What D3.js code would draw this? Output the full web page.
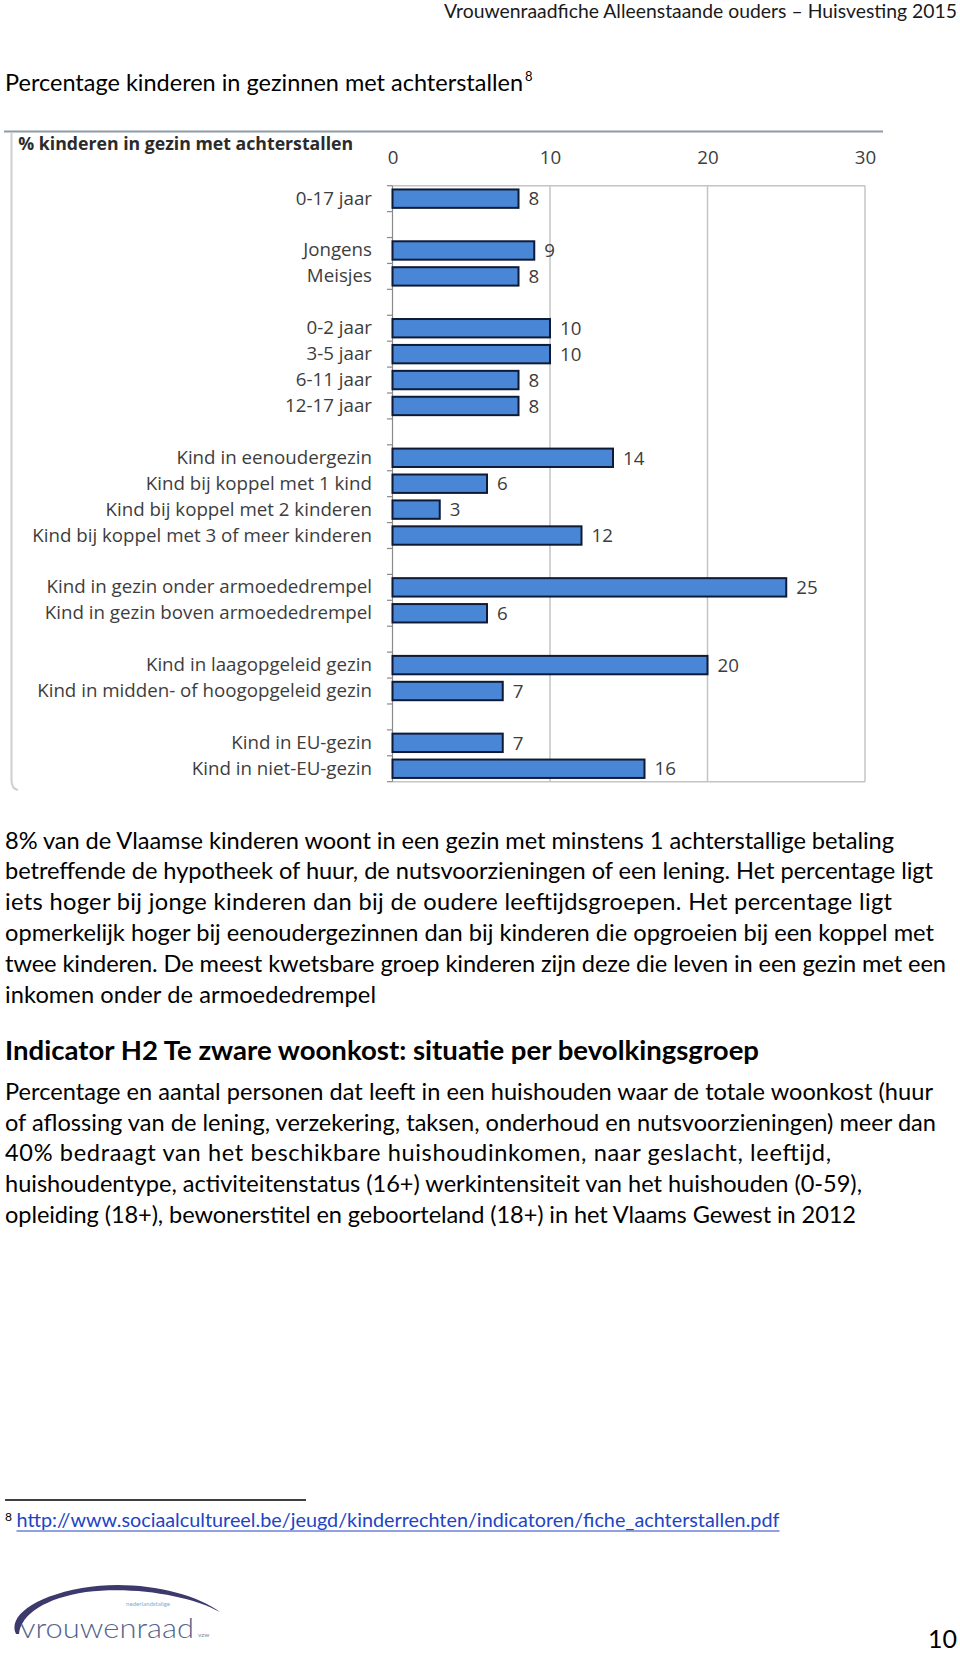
<!DOCTYPE html>
<html><head><meta charset="utf-8">
<script src="https://cdn.jsdelivr.net/npm/d3@7"></script>
<style>html,body{margin:0;padding:0;background:#fff;} svg{display:block}</style>
</head><body>
<svg id="page" width="960" height="1653"></svg>
<script>
// ---------- data ----------
const categories = ["0-17 jaar","","Jongens","Meisjes","","0-2 jaar","3-5 jaar","6-11 jaar","12-17 jaar","",
  "Kind in eenoudergezin","Kind bij koppel met 1 kind","Kind bij koppel met 2 kinderen","Kind bij koppel met 3 of meer kinderen","",
  "Kind in gezin onder armoededrempel","Kind in gezin boven armoededrempel","",
  "Kind in laagopgeleid gezin","Kind in midden- of hoogopgeleid gezin","",
  "Kind in EU-gezin","Kind in niet-EU-gezin"];
const values = [8,null,9,8,null,10,10,8,8,null,14,6,3,12,null,25,6,null,20,7,null,7,16];
const xTicks = [0,10,20,30];
const chartTitle = "% kinderen in gezin met achterstallen";

const headerText = "Vrouwenraadfiche Alleenstaande ouders \u2013 Huisvesting 2015";
const pageTitle = "Percentage kinderen in gezinnen met achterstallen";
const para1 = [
 "8% van de Vlaamse kinderen woont in een gezin met minstens 1 achterstallige betaling",
 "betreffende de hypotheek of huur, de nutsvoorzieningen of een lening. Het percentage ligt",
 "iets hoger bij jonge kinderen dan bij de oudere leeftijdsgroepen. Het percentage ligt",
 "opmerkelijk hoger bij eenoudergezinnen dan bij kinderen die opgroeien bij een koppel met",
 "twee kinderen. De meest kwetsbare groep kinderen zijn deze die leven in een gezin met een",
 "inkomen onder de armoededrempel"];
const heading2 = "Indicator H2 Te zware woonkost: situatie per bevolkingsgroep";
const para2 = [
 "Percentage en aantal personen dat leeft in een huishouden waar de totale woonkost (huur",
 "of aflossing van de lening, verzekering, taksen, onderhoud en nutsvoorzieningen) meer dan",
 "40% bedraagt van het beschikbare huishoudinkomen, naar geslacht, leeftijd,",
 "huishoudentype, activiteitenstatus (16+) werkintensiteit van het huishouden (0-59),",
 "opleiding (18+), bewonerstitel en geboorteland (18+) in het Vlaams Gewest in 2012"];
const footUrl = "http://www.sociaalcultureel.be/jeugd/kinderrechten/indicatoren/fiche_achterstallen.pdf";

// ---------- helpers ----------
const svg = d3.select("#page");
svg.append("rect").attr("width",960).attr("height",1653).attr("fill","#fff");
const FONT = "Lato, 'Open Sans', sans-serif";

function textBlock(lines, o){
  const base = 20;
  const g = svg.append("g");
  const els = lines.map((t,i)=> g.append("text")
    .attr("x",o.x).attr("y",o.y0+i*(o.dy||0))
    .attr("font-family",o.font||FONT).attr("font-weight",o.weight||400)
    .attr("font-size",base).attr("fill",o.color||"#000")
    .attr("text-anchor",o.anchor||"start").text(t));
  const sizes = els.map((e,i)=> base*o.widths[i]/e.node().getComputedTextLength()).sort((a,b)=>a-b);
  const fs = sizes[Math.floor(sizes.length/2)];
  els.forEach((e,i)=>{
    e.attr("font-size",fs);
    const w = e.node().getComputedTextLength();
    if (Math.abs(w-o.widths[i])/o.widths[i] < 0.08) e.attr("textLength",o.widths[i]).attr("lengthAdjust","spacing");
  });
  return {els, fs};
}

// ---------- page text ----------
textBlock([headerText],{x:957,y0:18,widths:[513],anchor:"end",color:"#1a1a1a"});
textBlock([pageTitle],{x:5,y0:91,widths:[518],color:"#000"});
svg.append("text").attr("x",525).attr("y",81).attr("font-family",FONT).attr("font-size",13).text("8");

textBlock(para1,{x:5,y0:848.5,dy:30.85,widths:[889,928,887,929,941,371]});
textBlock([heading2],{x:5,y0:1060,widths:[754],weight:700});
textBlock(para2,{x:5,y0:1100,dy:30.65,widths:[928,931,826,857,851]});

// footnote
svg.append("line").attr("x1",5).attr("x2",306).attr("y1",1500).attr("y2",1500).attr("stroke","#000").attr("stroke-width",1.5);
svg.append("text").attr("x",5).attr("y",1521).attr("font-family",FONT).attr("font-size",12).text("8");
textBlock([footUrl],{x:16.5,y0:1527,widths:[763],color:"#2244c4"});
svg.append("line").attr("x1",16.5).attr("x2",16.5+763).attr("y1",1531).attr("y2",1531).attr("stroke","#2244c4").attr("stroke-width",1.2);

// page number
svg.append("text").attr("x",957).attr("y",1648).attr("text-anchor","end").attr("font-family",FONT).attr("font-size",25).text("10");

// logo
svg.append("path")
  .attr("d","M16,1634 C8,1617 32,1597 82,1588 C132,1579 192,1591 220,1612 C190,1595 132,1586 86,1592 C46,1598 21,1614 19,1634 Z")
  .attr("fill","#3c3a6c");
svg.append("text").attr("x",20).attr("y",1638).attr("font-family",FONT).attr("font-weight",300)
  .attr("font-size",28).attr("fill","#56648a").attr("textLength",174).attr("lengthAdjust","spacingAndGlyphs").text("vrouwenraad");
svg.append("text").attr("x",126).attr("y",1606).attr("font-family",FONT).attr("font-size",6)
  .attr("fill","#7aaed6").attr("textLength",44).attr("lengthAdjust","spacingAndGlyphs").text("nederlandstalige");
svg.append("text").attr("x",198).attr("y",1637).attr("font-family",FONT).attr("font-size",6.5)
  .attr("fill","#7a8aa8").text("vzw");

// ---------- chart ----------
const CF = "'Open Sans', sans-serif";
const chart = svg.append("g");
// outer frame
chart.append("line").attr("x1",4).attr("x2",883).attr("y1",131.5).attr("y2",131.5).attr("stroke","#8d9aa8").attr("stroke-width",2);
chart.append("path").attr("d","M11.5,132 L11.5,780 Q11.5,789 18,790").attr("fill","none").attr("stroke","#cfcfcf").attr("stroke-width",2);

const x = d3.scaleLinear().domain([0,30]).range([392.5,865]);
const y = d3.scaleBand().domain(d3.range(categories.length)).range([185.7,781.7]).paddingInner(0.29).paddingOuter(0.145);

// plot area frame + gridlines
chart.append("line").attr("x1",x(0)).attr("x2",x(30)).attr("y1",y.range()[0]).attr("y2",y.range()[0]).attr("stroke","#c4c4c4").attr("stroke-width",1.5);
chart.append("line").attr("x1",x(0)).attr("x2",x(30)).attr("y1",y.range()[1]).attr("y2",y.range()[1]).attr("stroke","#c4c4c4").attr("stroke-width",1.5);
chart.selectAll(".grid").data(xTicks.filter(d=>d>0)).join("line")
  .attr("x1",d=>x(d)).attr("x2",d=>x(d)).attr("y1",y.range()[0]).attr("y2",y.range()[1])
  .attr("stroke","#c4c4c4").attr("stroke-width",1.5);

// y axis line and boundary ticks
chart.append("line").attr("x1",x(0)).attr("x2",x(0)).attr("y1",y.range()[0]).attr("y2",y.range()[1]).attr("stroke","#8a8a8a").attr("stroke-width",1.2);
chart.selectAll(".bt").data(d3.range(categories.length+1)).join("line")
  .attr("x1",x(0)-5.5).attr("x2",x(0)).attr("y1",i=>y.range()[0]+i*y.step()).attr("y2",i=>y.range()[0]+i*y.step())
  .attr("stroke","#8a8a8a").attr("stroke-width",1.2);

// label font size fit
const probe = chart.append("text").attr("font-family",CF).attr("font-size",20).text("Kind bij koppel met 3 of meer kinderen");
const lfs = 20*340/probe.node().getComputedTextLength();
probe.remove();

// category labels via axis
const yAxis = d3.axisLeft(y).tickSize(0).tickPadding(20.5).tickFormat(i=>categories[i]);
const ya = chart.append("g").attr("transform",`translate(${x(0)},0)`).call(yAxis);
ya.select(".domain").remove();
ya.selectAll("text").attr("font-family",CF).attr("font-size",lfs).attr("fill","#3d3d3d");

// x tick labels via axis
const xAxis = d3.axisTop(x).tickValues(xTicks).tickSize(0).tickPadding(0);
const xa = chart.append("g").attr("transform","translate(0,163.5)").call(xAxis);
xa.select(".domain").remove();
xa.selectAll("text").attr("font-family",CF).attr("font-size",lfs).attr("fill","#3d3d3d");

// bars
const data = values.map((v,i)=>({i,v})).filter(d=>d.v!=null);
chart.selectAll(".bar").data(data).join("rect")
  .attr("x",x(0)).attr("y",d=>y(d.i)).attr("width",d=>x(d.v)-x(0)).attr("height",y.bandwidth())
  .attr("fill","#4a86d6").attr("stroke","#0f1b36").attr("stroke-width",2);

// value labels
chart.selectAll(".vl").data(data).join("text")
  .attr("x",d=>x(d.v)+10).attr("y",d=>y(d.i)+y.bandwidth()/2).attr("dy","0.36em")
  .attr("font-family",CF).attr("font-size",lfs).attr("fill","#3d3d3d").text(d=>d.v);

// chart title
const ct = chart.append("text").attr("x",18.3).attr("y",149.5).attr("font-family",CF).attr("font-weight",700)
  .attr("font-size",20).attr("fill","#2b2b2b").text(chartTitle);
ct.attr("font-size",20*335/ct.node().getComputedTextLength());
</script></body></html>
